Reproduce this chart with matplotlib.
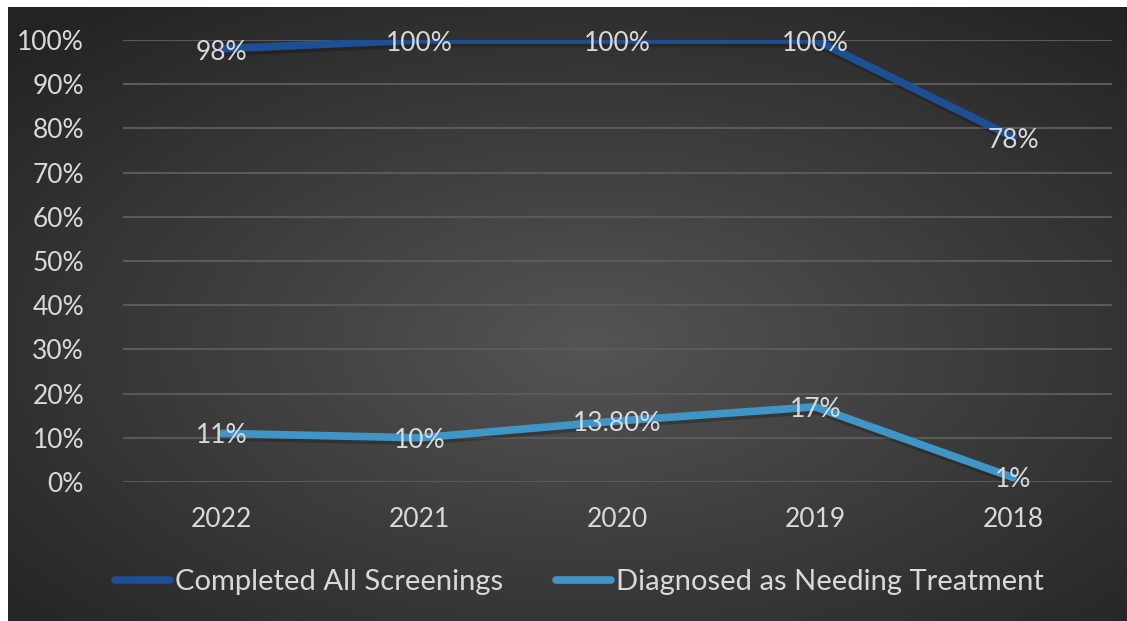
import matplotlib.pyplot as plt
import matplotlib.patheffects as pe
import numpy as np

years = ['2022', '2021', '2020', '2019', '2018']
completed = [98, 100, 100, 100, 78]
diagnosed = [11, 10, 13.8, 17, 1]
completed_labels = ['98%', '100%', '100%', '100%', '78%']
diagnosed_labels = ['11%', '10%', '13.80%', '17%', '1%']
yticks = list(range(0, 101, 10))

plt.rcParams['font.family'] = ['Lato', 'DejaVu Sans']
txt = '#d9d9d9'

fig = plt.figure(figsize=(11.27, 6.21), dpi=100, facecolor='white')

# radial gradient background
bg = fig.add_axes([8 / 1127, 0, 1 - 8 / 1127, 1 - 7 / 621])
gx, gy = np.meshgrid(np.linspace(0, 1, 400), np.linspace(0, 1, 250))
r = np.sqrt(((gx - 0.52) / 0.75) ** 2 + ((gy - 0.55) / 0.75) ** 2)
r = np.clip(r / 0.95, 0, 1)
shade = 0.33 - 0.19 * r
bg.imshow(np.dstack([shade] * 3), extent=[0, 1, 0, 1], aspect='auto')
bg.axis('off')

ax = fig.add_axes([123 / 1127, 139 / 621, 989 / 1127, 442 / 621])
ax.set_facecolor('none')
x = np.arange(len(years))

shadow = [pe.SimpleLineShadow(offset=(1, -2.5), shadow_color='black', alpha=0.22), pe.Normal()]
l1, = ax.plot(x, completed, color='#1d4f95', lw=5.5, solid_capstyle='round',
              path_effects=shadow, zorder=3, label='Completed All Screenings')
l2, = ax.plot(x, diagnosed, color='#3f95c6', lw=5.5, solid_capstyle='round',
              path_effects=shadow, zorder=3, label='Diagnosed as Needing Treatment')

for xi, v, s in zip(x, completed, completed_labels):
    ax.text(xi, v - 0.8, s, ha='center', va='center', color=txt, fontsize=19, zorder=4)
for xi, v, s in zip(x, diagnosed, diagnosed_labels):
    ax.text(xi, v - 0.5, s, ha='center', va='center', color=txt, fontsize=19, zorder=4)

ax.set_xlim(-0.5, len(years) - 0.5)
ax.set_ylim(0, 100)
ax.set_yticks(yticks)
ax.set_yticklabels([f'{t}%' for t in yticks])
ax.set_xticks(x)
ax.set_xticklabels(years)
ax.tick_params(length=0, colors=txt, labelsize=19)
ax.tick_params(axis='y', pad=28)
ax.tick_params(axis='x', pad=18)
ax.grid(axis='y', color='#5a5a5a', lw=1.5)
ax.set_axisbelow(True)
for sp in ax.spines.values():
    sp.set_visible(False)

leg = fig.legend(handles=[l1, l2], loc='center', bbox_to_anchor=(0.514, 39 / 621), ncol=2,
                 frameon=False, fontsize=21, labelcolor=txt, handlelength=1.9,
                 handletextpad=0.17, columnspacing=1.8)
for h in leg.get_lines():
    h.set_path_effects([])
    h.set_linewidth(5.5)

fig.savefig('out.png', dpi=100, facecolor='white')
